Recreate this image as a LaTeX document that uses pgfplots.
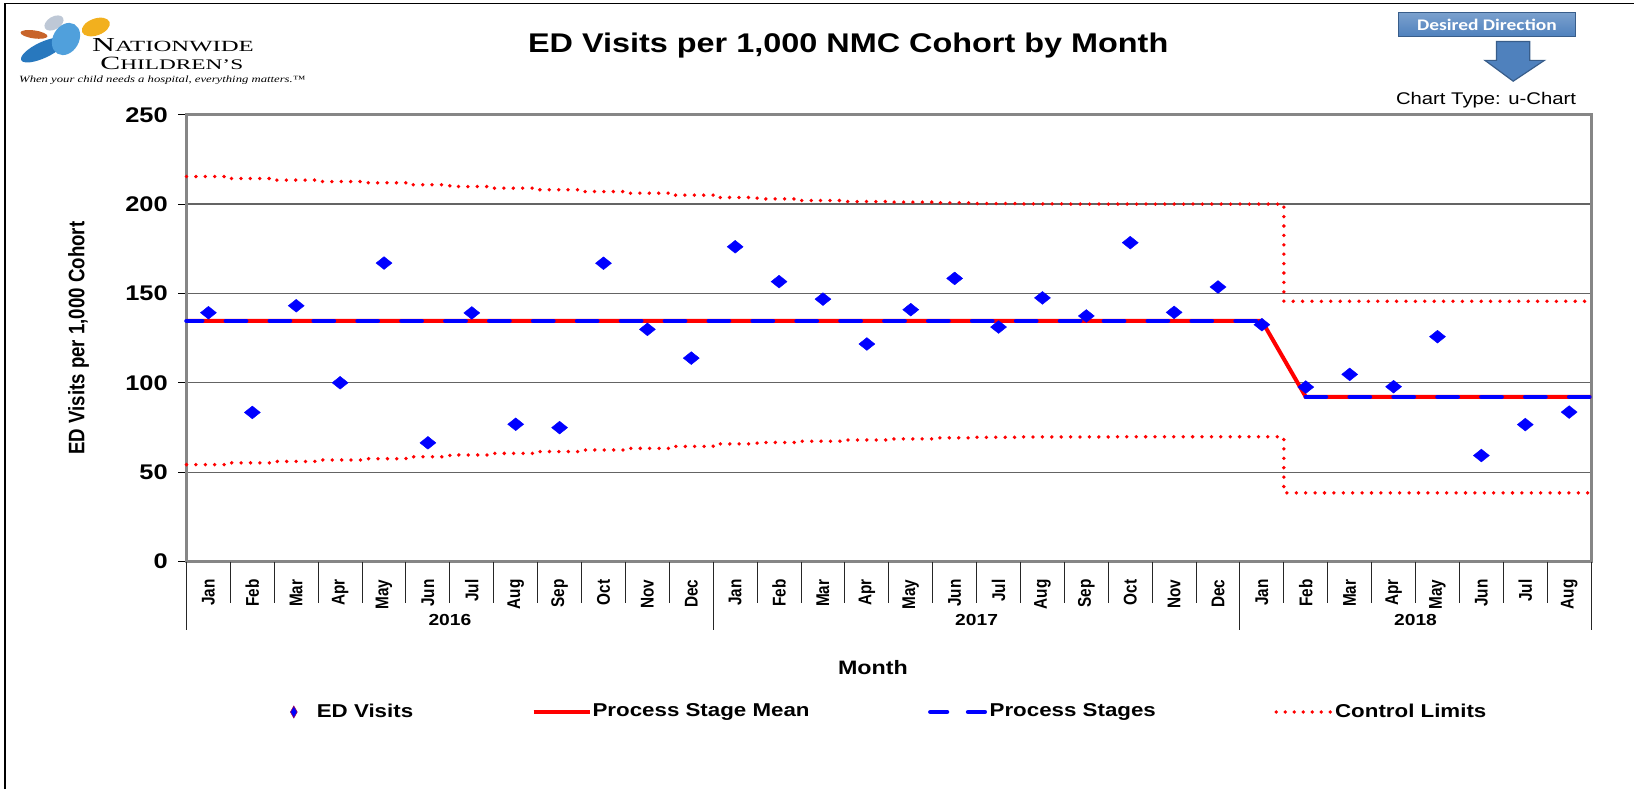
\documentclass[border=0pt]{standalone}
\usepackage{fontspec}
\setmainfont{Liberation Sans}[FakeStretch=1.2]
\newfontfamily\rotfont{Liberation Sans}[FakeStretch=0.8333]
\newfontfamily\calfont{Carlito}[FakeStretch=1.2]
\newfontfamily\logofont{Liberation Serif}
\usepackage{graphicx}
\usepackage{pgfplots}
\pgfplotsset{compat=1.18}
\definecolor{mblue}{RGB}{0,0,255}
\definecolor{mred}{RGB}{255,0,0}
\definecolor{axgray}{RGB}{134,134,134}
\definecolor{gridgray}{RGB}{100,100,100}
\definecolor{offblue}{RGB}{79,129,189}
\definecolor{offborder}{RGB}{56,93,138}
\pgfplotsset{
  legline/.style={legend image code/.code={\path[draw=none,fill=none] (0pt,-3pt) rectangle (28pt,3pt);\draw[##1] (0pt,0pt) -- (28pt,0pt);}},
  legmark/.style={legend image code/.code={\path[draw=none,fill=none] (0pt,-3pt) rectangle (28pt,3pt);\draw[##1] plot coordinates {(17pt,0pt)};}},
}
\begin{document}
\begin{tikzpicture}
\useasboundingbox (0,0) rectangle (817pt,394.5pt);
% outer frame
\draw[black, line width=0.6pt] (2.5pt,0) -- (2.5pt,392.85pt) -- (817pt,392.85pt);
% logo (approximation)
\fill[color={rgb,255:red,200;green,100;blue,42}, rotate around={-8:(17pt,377.3pt)}] (17pt,377.3pt) ellipse (6.8pt and 2.0pt);
\fill[color={rgb,255:red,190;green,200;blue,214}, rotate around={30:(27pt,383pt)}] (27pt,383pt) ellipse (5.2pt and 3.2pt);
\fill[color={rgb,255:red,242;green,176;blue,30}, rotate around={20:(47.9pt,381pt)}] (47.9pt,381pt) ellipse (7.3pt and 4.2pt);
\fill[color={rgb,255:red,40;green,120;blue,190}, rotate around={25:(21.5pt,369.5pt)}] (21.5pt,369.5pt) ellipse (12pt and 4.0pt);
\fill[color={rgb,255:red,80;green,160;blue,220}, rotate around={-30:(33pt,375pt)}] (33pt,375pt) ellipse (6.5pt and 8.5pt);
\node[anchor=base west, inner sep=0pt] at (45.9pt,368.6pt) {\resizebox{80.8pt}{6.5pt}{\logofont{\fontsize{11}{11}\selectfont N}{\fontsize{8.6}{9}\selectfont ATIONWIDE}}};
\node[anchor=base west, inner sep=0pt] at (50pt,359.9pt) {\resizebox{71.4pt}{6.2pt}{\logofont{\fontsize{11}{11}\selectfont C}{\fontsize{8.6}{9}\selectfont HILDREN’S}}};
\node[anchor=base west, inner sep=0pt] at (9.4pt,353.4pt) {\resizebox{143pt}{3.3pt}{\logofont\itshape When your child needs a hospital, everything matters.™}};
% title
\node[anchor=base, inner sep=0pt, font=\bfseries\fontsize{13.5}{15}\selectfont] at (424.1pt,368.45pt) {ED Visits per 1,000 NMC Cohort by Month};
% desired direction
\draw[offborder, line width=0.8pt, top color=offblue!75!white, bottom color=offblue] (699.2pt,376.3pt) rectangle (787.8pt,388.25pt);
\node[text=white, inner sep=0pt, font=\calfont\bfseries\fontsize{8.1}{9}\selectfont] at (743.5pt,382.3pt) {Desired Direction};
\draw[offborder, fill=offblue, line width=0.6pt] (748.2pt,373.7pt) -- (764.9pt,373.7pt) -- (764.9pt,364.3pt) -- (772.2pt,364.3pt) -- (756.6pt,353.9pt) -- (742.5pt,364.3pt) -- (748.2pt,364.3pt) -- cycle;
\node[anchor=base, inner sep=0pt, font=\fontsize{8.45}{10}\selectfont] at (743pt,342.4pt) {Chart Type: u-Chart};

\begin{axis}[
  at={(93.25pt,113.75pt)}, anchor=south west,
  scale only axis, width=702.3pt, height=223.4pt,
  xmin=-0.5, xmax=31.5, ymin=0, ymax=250,
  clip=false,
  ytick={0,50,...,250},
  ytick pos=left,
  xtick={0,...,31},
  xticklabels={Jan,Feb,Mar,Apr,May,Jun,Jul,Aug,Sep,Oct,Nov,Dec,Jan,Feb,Mar,Apr,May,Jun,Jul,Aug,Sep,Oct,Nov,Dec,Jan,Feb,Mar,Apr,May,Jun,Jul,Aug},
  axis line style={axgray, line width=1.4pt},
  ymajorgrids, grid style={gridgray, line width=0.6pt},
  tick align=outside, major tick length=4pt,
  ytick style={black, line width=0.5pt},
  xtick style={draw=none},
  /pgf/number format/assume math mode=true,
  yticklabel style={font=\bfseries\fontsize{10.6}{12}\selectfont, anchor=east, inner sep=0pt, xshift=-5.2pt},
  xticklabel style={font=\rotfont\bfseries\fontsize{9.2}{10}\selectfont, yshift=-4.8pt, rotate=90, anchor=east, inner sep=0pt},
  ylabel={ED Visits per 1,000 Cohort},
  ylabel style={font=\rotfont\bfseries\fontsize{11.2}{12}\selectfont, at={(axis description cs:-0.0769,0.5)}, anchor=center, inner sep=0pt},
  legend style={at={(axis description cs:0.0522,-0.3368)}, anchor=west, draw=none, fill=none, inner sep=0pt, outer sep=0pt,
    legend columns=4, font=\bfseries\fontsize{9.3}{11}\selectfont,
    /tikz/every odd column/.append style={column sep=0.5pt},
    /tikz/every even column/.append style={column sep=59.2pt},
    nodes={inner sep=0pt, outer sep=0pt}},
  legend cell align=left,
]
\addlegendimage{legmark, only marks, mark=diamond*, mark size=3pt, mark options={xscale=0.75, fill=mblue, draw={rgb,255:red,150;green,0;blue,90}, line width=0.3pt}}
\addlegendentry{ED Visits}
\addlegendimage{legline, mred, line width=2pt}
\addlegendentry{Process Stage Mean}
\addlegendimage{legline, mblue, line width=2.3pt, line cap=round, dash pattern=on 8.3pt off 10.6pt}
\addlegendentry{Process Stages}
\addlegendimage{legline, mred, line width=1.9pt, line cap=round, dash pattern=on 0pt off 4.5pt}
\addlegendentry{Control Limits}

% upper control limit (step per month)
\addplot[mred, line width=1.9pt, line cap=round, dash pattern=on 0pt off 4.7pt, const plot, forget plot] table {
x y
-0.5 215.4
0.5 214.3
1.5 213.4
2.5 212.6
3.5 211.9
4.5 210.8
5.5 209.8
6.5 208.9
7.5 208.0
8.5 207.0
9.5 206.1
10.5 205.0
11.5 203.7
12.5 202.9
13.5 202.0
14.5 201.4
15.5 201.1
16.5 200.7
17.5 200.3
18.5 200.1
19.5 200.0
20.5 200.0
21.5 200.0
22.5 200.0
23.5 200.0
24.5 145.6
31.5 145.6
};
% lower control limit
\addplot[mred, line width=1.9pt, line cap=round, dash pattern=on 0pt off 4.7pt, const plot, forget plot] table {
x y
-0.5 54.2
0.5 55.2
1.5 56.0
2.5 56.8
3.5 57.5
4.5 58.6
5.5 59.6
6.5 60.5
7.5 61.5
8.5 62.4
9.5 63.3
10.5 64.4
11.5 65.8
12.5 66.6
13.5 67.3
14.5 68.0
15.5 68.6
16.5 69.2
17.5 69.5
18.5 69.7
19.5 69.7
20.5 69.8
21.5 69.8
22.5 69.8
23.5 69.8
24.5 38.4
31.5 38.4
};
% process stage mean
\addplot[mred, line width=2pt, forget plot] coordinates {(-0.5,134.6) (24,134.6) (25,92.1) (31.5,92.1)};
% process stages
\addplot[mblue, line width=2.3pt, line cap=round, dash pattern=on 10.1pt off 11.85pt, dash phase=2.25pt, forget plot] coordinates {(-0.5,134.6) (24,134.6)};
\addplot[mblue, line width=2.3pt, line cap=round, dash pattern=on 10.1pt off 11.85pt, forget plot] coordinates {(25,92.1) (31.5,92.1)};
% ED visits
\addplot[only marks, mark=diamond*, mark size=3.2pt, mark options={xscale=1.667, fill=mblue, draw=mblue, line width=0.2pt}, forget plot] table {
x y
0 139.2
1 83.4
2 143.1
3 100.0
4 167.0
5 66.4
6 139.1
7 76.8
8 74.9
9 166.9
10 129.9
11 113.8
12 176.1
13 156.6
14 146.8
15 121.7
16 140.9
17 158.4
18 131.2
19 147.5
20 137.4
21 178.4
22 139.4
23 153.6
24 132.5
25 97.6
26 104.7
27 97.8
28 125.8
29 59.3
30 76.6
31 83.6
};
% category separators
\pgfplotsinvokeforeach{-0.5,0.5,...,31.5}{
  \draw[black!85, line width=0.5pt] (axis cs:#1,0) -- ([yshift=-20.75pt]axis cs:#1,0);
}
\pgfplotsinvokeforeach{-0.5,11.5,23.5,31.5}{
  \draw[black!85, line width=0.5pt] (axis cs:#1,0) -- ([yshift=-34pt]axis cs:#1,0);
}
\node[anchor=base, inner sep=0pt, font=\bfseries\fontsize{8}{9}\selectfont] at ([yshift=-31.85pt]axis cs:5.5,0) {2016};
\node[anchor=base, inner sep=0pt, font=\bfseries\fontsize{8}{9}\selectfont] at ([yshift=-31.85pt]axis cs:17.5,0) {2017};
\node[anchor=base, inner sep=0pt, font=\bfseries\fontsize{8}{9}\selectfont] at ([yshift=-31.85pt]axis cs:27.5,0) {2018};
\node[anchor=base, inner sep=0pt, font=\bfseries\fontsize{9.7}{11}\selectfont] at ([yshift=-56.35pt]axis cs:15.14,0) {Month};
\end{axis}
\end{tikzpicture}
\end{document}
